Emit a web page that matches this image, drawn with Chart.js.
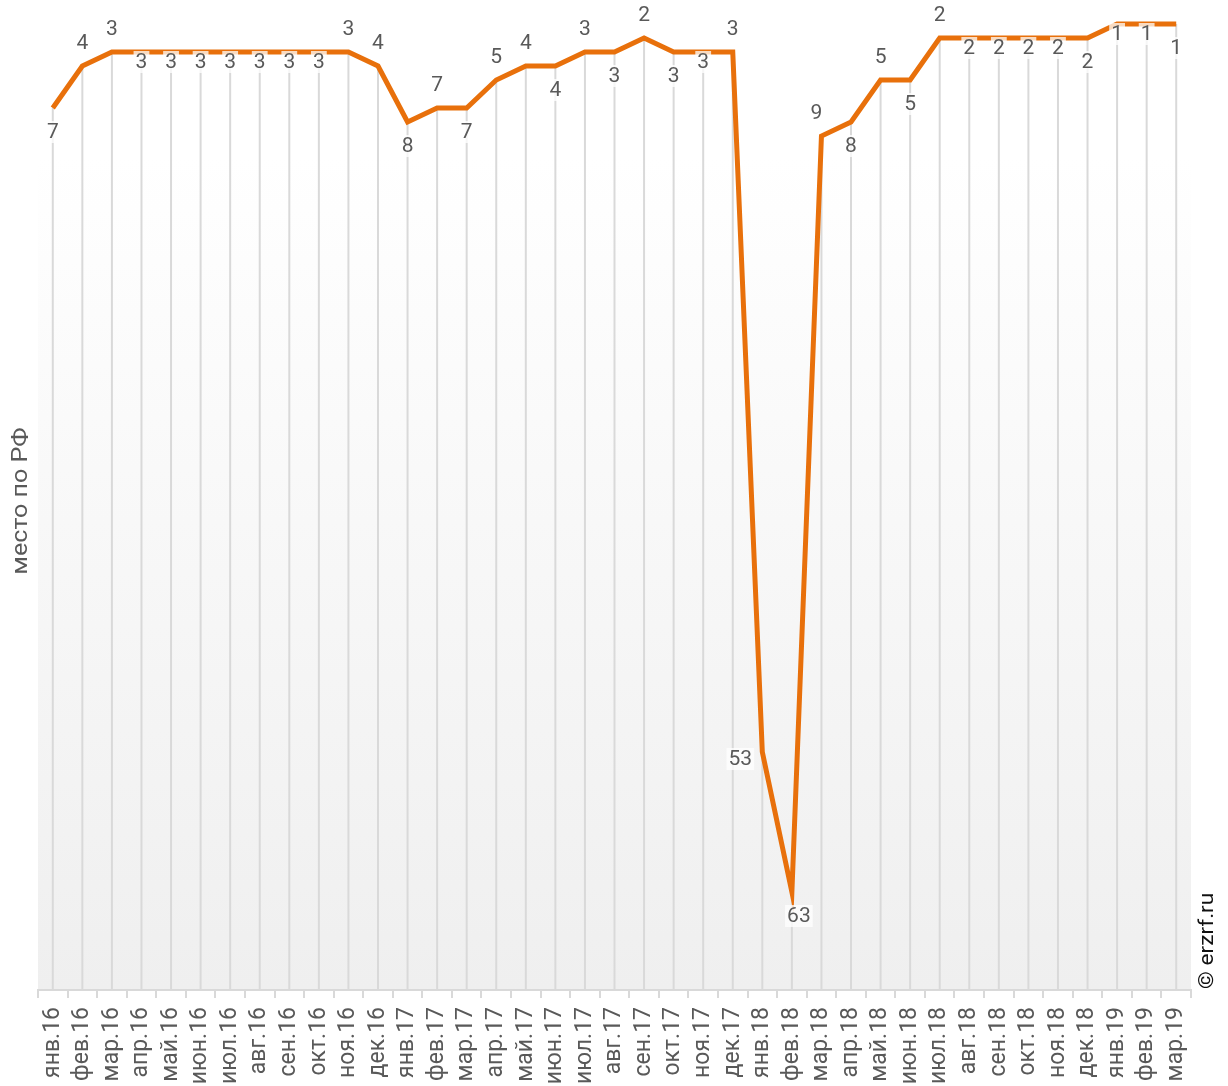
<!DOCTYPE html>
<html lang="ru">
<head>
<meta charset="utf-8">
<title>место по РФ</title>
<script src="https://cdn.jsdelivr.net/npm/chart.js@4.4.1/dist/chart.umd.min.js"></script>
<style>
  html, body { margin: 0; padding: 0; background: #fff; overflow: hidden; }
  #wrap { width: 1228px; height: 1086px; position: relative; }
</style>
</head>
<body>
<div id="wrap"><canvas id="rankChart"></canvas></div>
<script>
// месяцы
const months = [
  'янв.16', 'фев.16', 'мар.16', 'апр.16', 'май.16', 'июн.16', 'июл.16', 'авг.16', 'сен.16', 'окт.16', 'ноя.16', 'дек.16',
  'янв.17', 'фев.17', 'мар.17', 'апр.17', 'май.17', 'июн.17', 'июл.17', 'авг.17', 'сен.17', 'окт.17', 'ноя.17', 'дек.17',
  'янв.18', 'фев.18', 'мар.18', 'апр.18', 'май.18', 'июн.18', 'июл.18', 'авг.18', 'сен.18', 'окт.18', 'ноя.18', 'дек.18',
  'янв.19', 'фев.19', 'мар.19'
];

// место в рейтинге
const places = [
  7, 4, 3, 3, 3, 3, 3, 3, 3, 3, 3, 4,
  8, 7, 7, 5, 4, 4, 3, 3, 2, 3, 3, 3,
  53, 63, 9, 8, 5, 5, 2, 2, 2, 2, 2, 2,
  1, 1, 1
];

// где рисовать подпись: a - сверху, al - сверху левее, b - снизу, br - снизу правее,
// n - снизу вплотную, l - слева
const labelPos = [
  'b', 'a', 'a', 'n', 'n', 'n', 'n', 'n', 'n', 'n', 'a', 'a',
  'b', 'a', 'b', 'a', 'a', 'b', 'a', 'b', 'a', 'b', 'n', 'a',
  'l', 'br', 'al', 'b', 'a', 'b', 'a', 'n', 'n', 'n', 'n', 'b',
  'n', 'n', 'b'
];

const orange = '#e8700b';
const textGrey = '#595959';
const FONT = 'Roboto, "Liberation Sans", sans-serif';

// фон области графика - градиент
const bgPlugin = {
  id: 'plotBg',
  beforeDraw(chart) {
    const { ctx, chartArea: a } = chart;
    const g = ctx.createLinearGradient(0, a.top, 0, a.bottom);
    g.addColorStop(0, '#ffffff');
    g.addColorStop(0.15, '#ffffff');
    g.addColorStop(1, '#efefef');
    ctx.save();
    ctx.fillStyle = g;
    ctx.fillRect(a.left, a.top, a.right - a.left, a.bottom - a.top);
    ctx.restore();
  }
};

// вертикальные линии от точки вниз до оси
const dropLines = {
  id: 'dropLines',
  beforeDatasetsDraw(chart) {
    const { ctx, chartArea: a } = chart;
    const pts = chart.getDatasetMeta(0).data;
    ctx.save();
    ctx.strokeStyle = '#d9d9d9';
    ctx.lineWidth = 2;
    pts.forEach(p => {
      ctx.beginPath();
      ctx.moveTo(p.x, p.y);
      ctx.lineTo(p.x, a.bottom);
      ctx.stroke();
    });
    ctx.restore();
  }
};

// подписи значений с полупрозрачной подложкой
const valueLabels = {
  id: 'valueLabels',
  afterDatasetsDraw(chart) {
    const { ctx } = chart;
    const pts = chart.getDatasetMeta(0).data;
    ctx.save();
    ctx.font = '21px ' + FONT;
    ctx.textAlign = 'center';
    ctx.textBaseline = 'middle';
    pts.forEach((p, i) => {
      const txt = String(places[i]);
      let x = p.x, y = p.y;
      const pos = labelPos[i];
      if (pos === 'a') y -= 23;
      else if (pos === 'al') x -= 5, y -= 23;
      else if (pos === 'b') y += 24;
      else if (pos === 'br') x += 7, y += 24;
      else if (pos === 'n') y += 10;
      else if (pos === 'l') x -= 22, y += 7;
      const w = ctx.measureText(txt).width + 4;
      const h = 22;
      ctx.fillStyle = 'rgba(255,255,255,0.75)';
      ctx.fillRect(x - w / 2, y - h / 2, w, h);
      ctx.fillStyle = textGrey;
      ctx.fillText(txt, x, y + 1);
    });
    ctx.restore();
  }
};

// подпись оси Y и копирайт
const sideTexts = {
  id: 'sideTexts',
  afterDraw(chart) {
    const { ctx, chartArea: a } = chart;
    ctx.save();
    ctx.font = '22px ' + FONT;
    ctx.fillStyle = textGrey;
    ctx.translate(21, 501);
    ctx.rotate(-Math.PI / 2);
    ctx.scale(1.14, 1);
    ctx.textAlign = 'center';
    ctx.textBaseline = 'middle';
    ctx.fillText('место по РФ', 0, 0);
    ctx.restore();

    ctx.save();
    ctx.font = '21px ' + FONT;
    ctx.fillStyle = '#111';
    ctx.translate(1208, a.bottom - 1);
    ctx.rotate(-Math.PI / 2);
    ctx.scale(1.08, 1);
    ctx.textAlign = 'left';
    ctx.textBaseline = 'middle';
    ctx.fillText('© erzrf.ru', 0, 0);
    ctx.restore();
  }
};

const config = {
  type: 'line',
  data: {
    labels: months,
    datasets: [{
      label: 'место по РФ',
      data: places,
      borderColor: orange,
      borderWidth: 5,
      pointRadius: 0,
      tension: 0,
      borderJoinStyle: 'miter',
      fill: false
    }]
  },
  options: {
    responsive: false,
    animation: false,
    layout: { padding: { left: 38, right: 37, top: 10, bottom: 0 } },
    plugins: {
      legend: { display: false },
      tooltip: { enabled: false }
    },
    scales: {
      x: {
        offset: true,
        grid: {
          offset: true,
          drawOnChartArea: false,
          drawTicks: true,
          tickLength: 8,
          color: '#d9d9d9',
          lineWidth: 2
        },
        border: { display: true, color: '#d9d9d9', width: 2 },
        ticks: {
          autoSkip: false,
          minRotation: 90,
          maxRotation: 90,
          padding: 9,
          color: textGrey,
          font: { family: FONT, size: 23 }
        },
        afterFit(scale) { scale.height = 96; }
      },
      y: {
        display: false,
        reverse: true,
        min: 0,
        max: 70
      }
    }
  },
  plugins: [bgPlugin, dropLines, valueLabels, sideTexts]
};

const canvas = document.getElementById('rankChart');
canvas.width = 1228;
canvas.height = 1086;
const rankChart = new Chart(canvas, config);
</script>
</body>
</html>
